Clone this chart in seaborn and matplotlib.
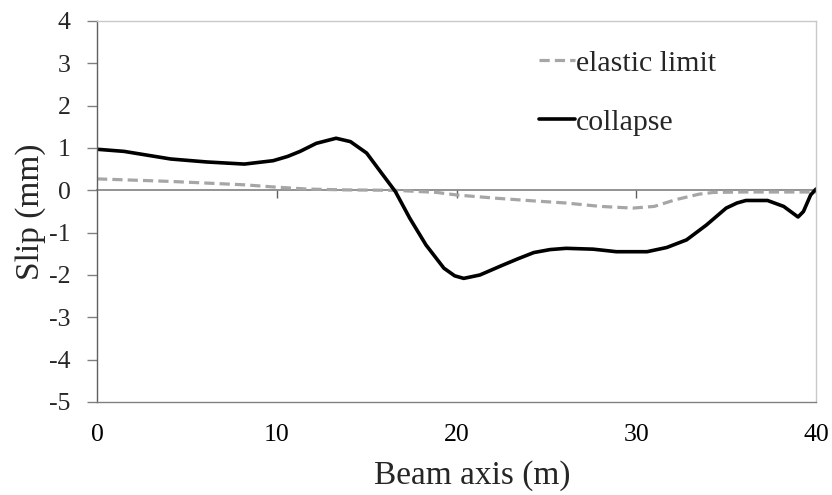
import numpy as np
import pandas as pd
import matplotlib
matplotlib.use('Agg')
import matplotlib.pyplot as plt
import seaborn as sns

# data
collapse_x = [0, 1.5, 4.1, 6.1, 8.2, 9.8, 10.6, 11.3, 12.2, 13.3, 14.1, 15.0, 15.7, 16.6, 17.4,
              18.3, 19.3, 19.9, 20.4, 21.3, 22.5, 23.4, 24.3, 25.2, 26.1, 27.6, 28.9, 30.6,
              31.7, 32.8, 33.9, 35.0, 35.6, 36.1, 37.3, 38.2, 39.0, 39.3, 39.7, 40.0]
collapse_y = [0.97, 0.92, 0.74, 0.67, 0.62, 0.70, 0.80, 0.92, 1.11, 1.23, 1.15, 0.88, 0.48, -0.03, -0.66,
              -1.29, -1.84, -2.02, -2.08, -2.00, -1.78, -1.62, -1.47, -1.40, -1.37, -1.39, -1.45, -1.45,
              -1.35, -1.17, -0.82, -0.42, -0.30, -0.24, -0.24, -0.38, -0.63, -0.50, -0.11, 0.03]

elastic_x = [0, 4.1, 8.2, 9.8, 11.7, 13.8, 16.6, 18.9, 20.0, 22.3, 24.3, 26.1, 28.0, 29.8,
             31.0, 32.2, 33.5, 34.3, 36.0, 38.0, 40.0]
elastic_y = [0.27, 0.21, 0.13, 0.08, 0.03, 0.01, 0.0, -0.05, -0.11, -0.19, -0.25, -0.30, -0.38, -0.42,
             -0.38, -0.22, -0.09, -0.05, -0.04, -0.04, -0.04]

x_ticks = [0, 10, 20, 30, 40]
y_ticks = [-5, -4, -3, -2, -1, 0, 1, 2, 3, 4]

sns.set_theme(style='white')
plt.rcParams['font.family'] = ['Liberation Serif', 'DejaVu Serif']

fig = plt.figure(figsize=(8.32, 4.95), dpi=100)
ax = fig.add_axes([0.1166, 0.1879, 0.8642, 0.7697])

df_el = pd.DataFrame({'x': elastic_x, 'y': elastic_y})
df_co = pd.DataFrame({'x': collapse_x, 'y': collapse_y})

sns.lineplot(data=df_el, x='x', y='y', ax=ax, color='#a6a6a6', lw=2.3,
             label='elastic limit', sort=False)
ax.lines[-1].set_dashes((3.2, 1.6))
sns.lineplot(data=df_co, x='x', y='y', ax=ax, color='black', lw=2.6,
             label='collapse', sort=False)

ax.set_xlim(0, 40)
ax.set_ylim(-5, 4)
ax.set_xticks(x_ticks)
ax.set_yticks(y_ticks)
ax.set_xticklabels([str(t) for t in x_ticks])
ax.set_yticklabels([str(t) for t in y_ticks])
ax.tick_params(axis='x', length=0, pad=16, labelsize=18.5, colors='black')
ax.tick_params(axis='y', length=7, width=1, direction='out', pad=12, labelsize=18.5,
               color='#808080', left=True)

for side in ['left', 'bottom']:
    ax.spines[side].set_color('#808080')
    ax.spines[side].set_linewidth(1.0)
for side in ['top', 'right']:
    ax.spines[side].set_color('#c8c8c8')
    ax.spines[side].set_linewidth(1.0)
ax.spines['left'].set_color('#606060')

# zero line with its own ticks
sec = ax.secondary_xaxis(0, transform=ax.transData)
sec.set_xticks([10, 20, 30])
sec.set_xticklabels([])
sec.tick_params(length=6, width=1, direction='out', color='#606060')
sec.spines['bottom'].set_color('#808080')
sec.spines['bottom'].set_linewidth(1.2)

ax.set_xlabel('Beam axis (m)', fontsize=24, labelpad=10, x=0.522)
ax.set_ylabel('Slip (mm)', fontsize=24, labelpad=2)

leg = ax.legend(loc='upper left', bbox_to_anchor=(0.577, 0.995), frameon=False,
                fontsize=21.5, handlelength=1.2, handletextpad=0.05, labelspacing=1.08)

fig.savefig('out.png', dpi=100)
